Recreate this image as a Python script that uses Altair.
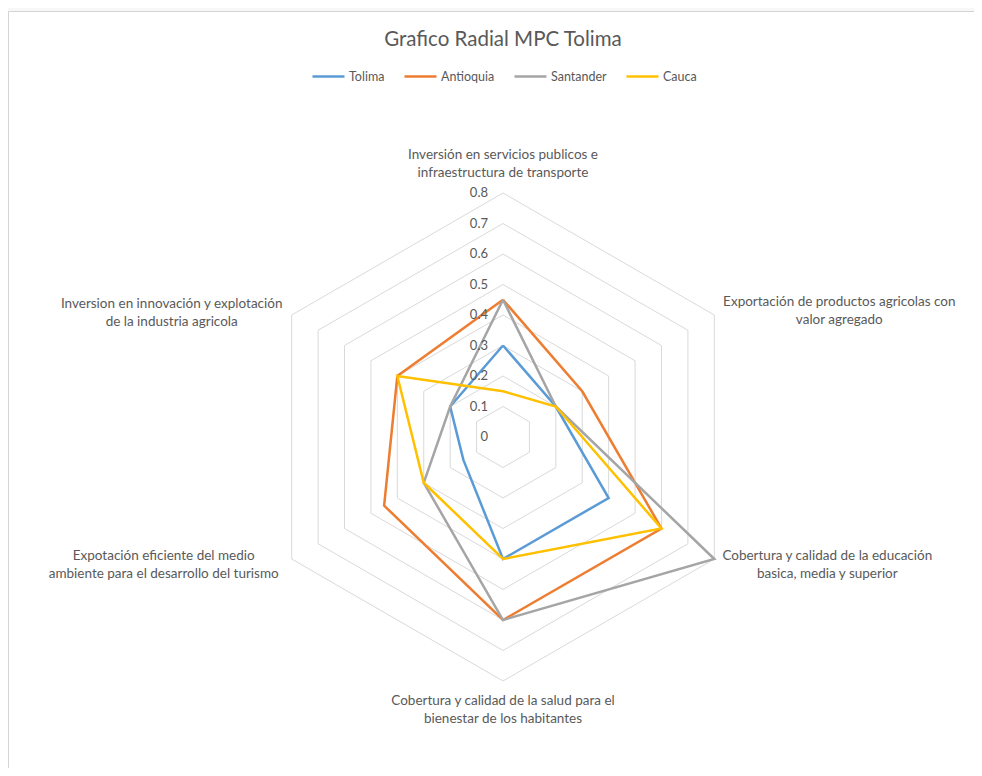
import altair as alt
import pandas as pd

# ---------------- data ----------------
categories = [
    "Inversión en servicios publicos e\ninfraestructura de transporte",
    "Exportación de productos agricolas con\nvalor agregado",
    "Cobertura y calidad de la educación\nbasica, media y superior",
    "Cobertura y calidad de la salud para el\nbienestar de los habitantes",
    "Expotación eficiente del medio\nambiente para el desarrollo del turismo",
    "Inversion en innovación y explotación\nde la industria agricola",
]
series_names = ["Tolima", "Antioquia", "Santander", "Cauca"]
tolima = [0.30, 0.20, 0.40, 0.40, 0.15, 0.20]
antioquia = [0.45, 0.30, 0.60, 0.60, 0.45, 0.40]
santander = [0.45, 0.20, 0.80, 0.60, 0.30, 0.20]
cauca = [0.15, 0.20, 0.60, 0.40, 0.30, 0.40]
tick_values = [0, 0.1, 0.2, 0.3, 0.4, 0.5, 0.6, 0.7, 0.8]
tick_labels = ["0", "0.1", "0.2", "0.3", "0.4", "0.5", "0.6", "0.7", "0.8"]
title_text = "Grafico Radial MPC Tolima"

# ---------------- style ----------------
colors = ["#5B9BD5", "#ED7D31", "#A5A5A5", "#FFC000"]
FONT = "Lato"
TEXT_COLOR = "#595959"
GRID_COLOR = "#d9d9d9"
W, H = 966, 757
CX, CY, PX_PER_UNIT = 495, 426, 305.0
label_offsets = [(0, -38), (125, -13), (113, -3), (0, 20), (-128, -3), (-120, -11)]

n = len(categories)
values_by_series = [tolima, antioquia, santander, cauca]

rows = []
for name, vals in zip(series_names, values_by_series):
    for k in range(n + 1):
        rows.append({"series": name, "k": k, "value": vals[k % n]})
series_df = pd.DataFrame(rows)

grid_rows = []
for lvl in tick_values[1:]:
    for k in range(n + 1):
        grid_rows.append({"level": lvl, "k": k, "value": lvl})
grid_df = pd.DataFrame(grid_rows)

ticks_df = pd.DataFrame({"k": 0, "value": tick_values, "label": tick_labels})
cat_df = pd.DataFrame({"k": list(range(n)), "value": max(tick_values), "label": categories})

xdom = [-CX / PX_PER_UNIT, (W - CX) / PX_PER_UNIT]
ydom = [-(H - CY) / PX_PER_UNIT, CY / PX_PER_UNIT]
xs = alt.Scale(domain=xdom, nice=False, zero=False)
ys = alt.Scale(domain=ydom, nice=False, zero=False)


def polar(ch):
    return ch.transform_calculate(
        px=f"datum.value * sin(datum.k * 2 * PI / {n})",
        py=f"datum.value * cos(datum.k * 2 * PI / {n})",
    )


X = alt.X("px:Q", scale=xs, axis=None)
Y = alt.Y("py:Q", scale=ys, axis=None)

grid = polar(alt.Chart(grid_df)).mark_line(color=GRID_COLOR, strokeWidth=1).encode(
    x=X, y=Y, detail="level:N", order="k:Q"
)

lines = polar(alt.Chart(series_df)).mark_line(strokeWidth=2.5).encode(
    x=X,
    y=Y,
    order="k:Q",
    color=alt.Color(
        "series:N",
        scale=alt.Scale(domain=series_names, range=colors),
        sort=series_names,
        legend=alt.Legend(
            title=None,
            orient="none",
            direction="horizontal",
            legendX=303,
            legendY=48,
            symbolType="stroke",
            symbolSize=1024,
            symbolStrokeWidth=2.5,
            labelOffset=3,
            columnPadding=14,
            labelFont=FONT,
            labelFontSize=12.5,
            labelColor=TEXT_COLOR,
        ),
    ),
)

ticks = polar(alt.Chart(ticks_df)).mark_text(
    align="right", baseline="middle", dx=-15, font=FONT, fontSize=13, color=TEXT_COLOR
).encode(x=X, y=Y, text="label:N")

cat_layers = []
for i, (dx, dy) in enumerate(label_offsets):
    cat_layers.append(
        polar(alt.Chart(cat_df).transform_filter(f"datum.k == {i}"))
        .mark_text(
            align="center",
            baseline="middle",
            dx=dx,
            dy=dy,
            lineBreak="\n",
            lineHeight=18,
            font=FONT,
            fontSize=13.5,
            color=TEXT_COLOR,
        )
        .encode(x=X, y=Y, text="label:N")
    )

chart = (
    alt.layer(grid, lines, ticks, *cat_layers)
    .properties(
        width=W,
        height=H,
        autosize=alt.AutoSizeParams(type="none"),
        padding={"left": 0, "top": 3, "right": 0, "bottom": 0},
        background="#f7f7f7",
        title=alt.TitleParams(
            title_text,
            anchor="middle",
            font=FONT,
            fontSize=20.5,
            fontWeight="normal",
            color=TEXT_COLOR,
            dx=12,
            dy=43,
        ),
    )
    .configure_view(fill="white", stroke="#d4d4d4", strokeWidth=1)
)

chart.save("out.html", embed_options={"renderer": "svg", "actions": False})
